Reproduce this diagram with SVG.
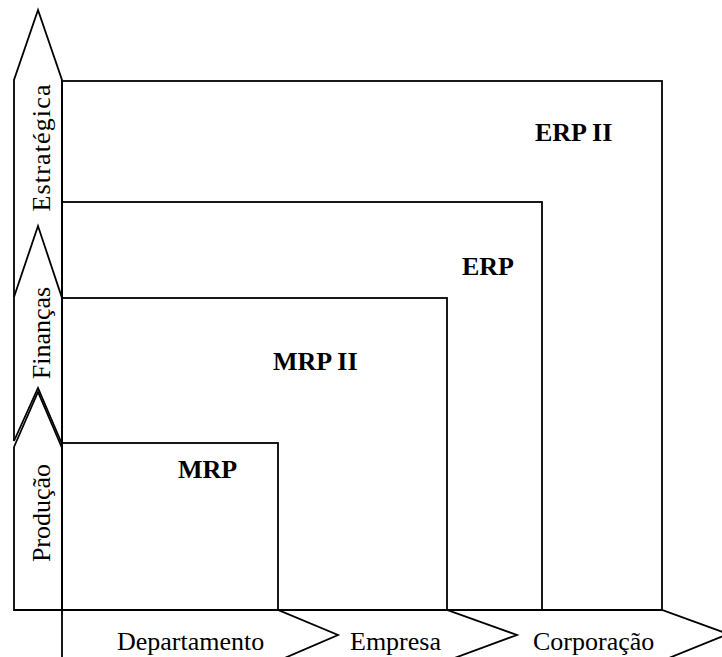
<svg xmlns="http://www.w3.org/2000/svg" width="722" height="657" viewBox="0 0 722 657">
<style>
.ln{fill:none;stroke:#000;stroke-width:1.8;stroke-linejoin:miter}
.box{fill:none;stroke:#000;stroke-width:1.8}
.bl{font-family:"Liberation Serif",serif;font-weight:bold;font-size:26px;fill:#000}
.rg{font-family:"Liberation Serif",serif;font-size:26px;fill:#000}
</style>
<rect width="722" height="657" fill="#fff"/>
<g id="erp2"><rect class="box" x="62" y="81" width="600" height="529"/><text class="bl" x="535" y="141">ERP II</text></g>
<g id="erp"><rect class="box" x="62" y="202" width="480" height="408"/><text class="bl" x="462" y="275">ERP</text></g>
<g id="mrp2"><rect class="box" x="62" y="298" width="385" height="312"/><text class="bl" x="273" y="370">MRP II</text></g>
<g id="mrp"><rect class="box" x="62" y="443" width="216" height="167"/><text class="bl" x="178" y="478">MRP</text></g>
<g id="estrategica">
<path class="ln" d="M14,441 V80 L38,10 L62,80 V298"/>
<text class="rg" transform="translate(50,148) rotate(-90)" text-anchor="middle" textLength="127" lengthAdjust="spacing">Estratégica</text>
</g>
<g id="financas">
<path class="ln" d="M14,297 L38,226 L62,298 V444"/>
<text class="rg" transform="translate(50,333) rotate(-90)" text-anchor="middle">Finanças</text>
</g>
<g id="producao">
<path class="ln" d="M14,441 L38,388 L62,444"/>
<path class="ln" d="M14,447 L38,392 L62,448"/>
<path class="ln" d="M14,447 V610 H62 V448"/>
<text class="rg" transform="translate(50,513) rotate(-90)" text-anchor="middle">Produção</text>
</g>
<g id="departamento">
<path class="ln" d="M62,660 V610 H278 L338,635 L280,660"/>
<text class="rg" x="117" y="650">Departamento</text>
</g>
<g id="empresa">
<path class="ln" d="M278,610 H447 L517,635 L449,660"/>
<text class="rg" x="350" y="650">Empresa</text>
</g>
<g id="corporacao">
<path class="ln" d="M447,610 H662 L728,634 L664,660"/>
<text class="rg" x="533" y="650">Corporação</text>
</g>
<g id="connectors"></g>
</svg>
